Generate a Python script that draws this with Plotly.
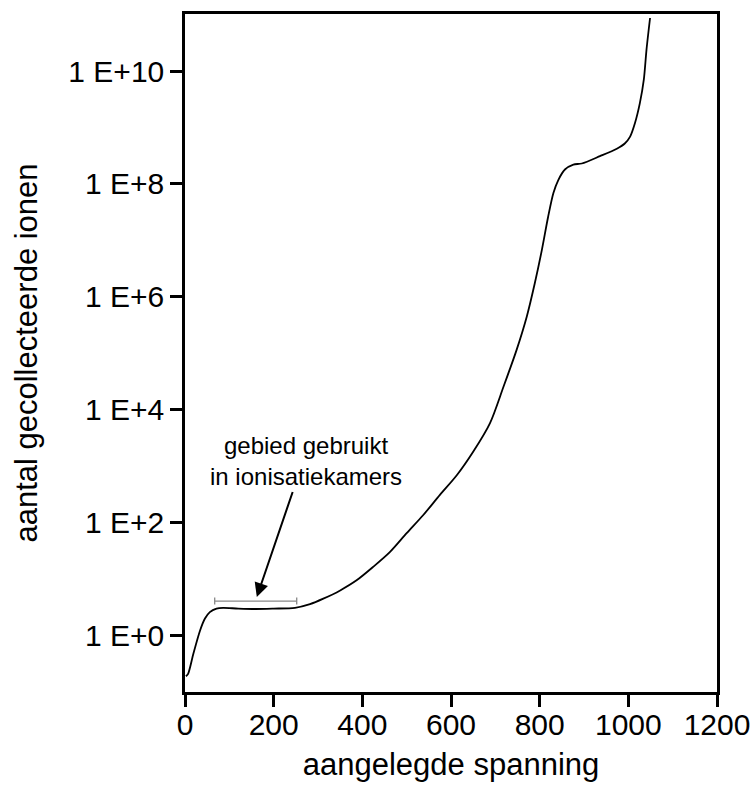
import plotly.graph_objects as go

# Applied voltage and number of collected ions (gas-filled detector curve)
spanning = [2, 7, 19, 34, 45, 56, 71, 86, 120, 160, 200, 248, 282, 312, 350,
            387, 425, 462, 500, 537, 575, 613, 650, 688, 718, 748, 771, 789,
            805, 819, 831, 842, 857, 876, 895, 936, 974, 992, 1004, 1015, 1026,
            1035, 1041, 1049]
ionen = [0.19, 0.21, 0.48, 1.23, 2.0, 2.6, 3.0, 3.1, 3.0, 2.95, 3.0, 3.1, 3.6,
         4.5, 6.3, 9.5, 16.6, 30, 65, 135, 310, 690, 1.8e3, 5.8e3, 2.5e4,
         1.15e5, 4.5e5, 1.74e6, 6.8e6, 2.6e7, 6.9e7, 1.17e8, 1.8e8, 2.2e8,
         2.3e8, 3.1e8, 4.2e8, 5.2e8, 6.9e8, 1.2e9, 2.7e9, 7.1e9, 2.4e10, 8.7e10]

x_ticks = [0, 200, 400, 600, 800, 1000, 1200]
y_ticks = [1, 1e2, 1e4, 1e6, 1e8, 1e10]
y_ticktext = ["1 E+0", "1 E+2", "1 E+4", "1 E+6", "1 E+8", "1 E+10"]

# Ionisation-chamber region marker
bereik_x = [67, 252]
bereik_y = 4.06
cap_lo, cap_hi = 3.55, 4.7

annot_text = "gebied gebruikt<br>in ionisatiekamers"

font = "Liberation Sans, Arial, sans-serif"

fig = go.Figure()

fig.add_trace(go.Scatter(
    x=spanning, y=ionen, mode="lines",
    line=dict(color="black", width=1.8, shape="spline", smoothing=0.8),
    hoverinfo="skip", showlegend=False,
))

# bracket: horizontal bar with end caps
fig.add_trace(go.Scatter(
    x=[bereik_x[0], bereik_x[0], None, bereik_x[0], bereik_x[1], None,
       bereik_x[1], bereik_x[1]],
    y=[cap_lo, cap_hi, None, bereik_y, bereik_y, None, cap_lo, cap_hi],
    mode="lines", line=dict(color="#888888", width=1.3),
    hoverinfo="skip", showlegend=False,
))

fig.add_annotation(
    x=162, y=0.684, xref="x", yref="y",
    ax=244, ay=2.57, axref="x", ayref="y",
    showarrow=True, arrowhead=2, arrowsize=1.4, arrowwidth=2,
    arrowcolor="black", text="",
)
fig.add_annotation(
    x=273, y=3.09, xref="x", yref="y", text=annot_text,
    showarrow=False, font=dict(family=font, size=24, color="black"),
    align="center",
)

fig.update_layout(
    width=752, height=789,
    margin=dict(l=185, r=35, t=14, b=97),
    paper_bgcolor="white", plot_bgcolor="white",
    font=dict(family=font, color="black"),
)

fig.update_xaxes(
    range=[0, 1200], tickvals=x_ticks, ticktext=[str(v) for v in x_ticks],
    showgrid=False, zeroline=False, automargin=False,
    showline=True, linecolor="black", linewidth=2.5, mirror=True,
    ticks="outside", ticklen=12, tickwidth=2.5, tickcolor="black",
    ticklabelstandoff=-8,
    tickfont=dict(family=font, size=30, color="black"),
    title=dict(text="aangelegde spanning",
               font=dict(family=font, size=31, color="black"), standoff=14),
)
fig.update_yaxes(
    type="log", range=[-1, 11.01], tickvals=y_ticks, ticktext=y_ticktext,
    showgrid=False, zeroline=False, automargin=False,
    showline=True, linecolor="black", linewidth=2.5, mirror=True,
    ticks="outside", ticklen=12, tickwidth=2.5, tickcolor="black",
    tickfont=dict(family=font, size=30, color="black"),
    title=dict(text="aantal gecollecteerde ionen",
               font=dict(family=font, size=31, color="black"), standoff=22),
)

fig.write_html("out.html")
